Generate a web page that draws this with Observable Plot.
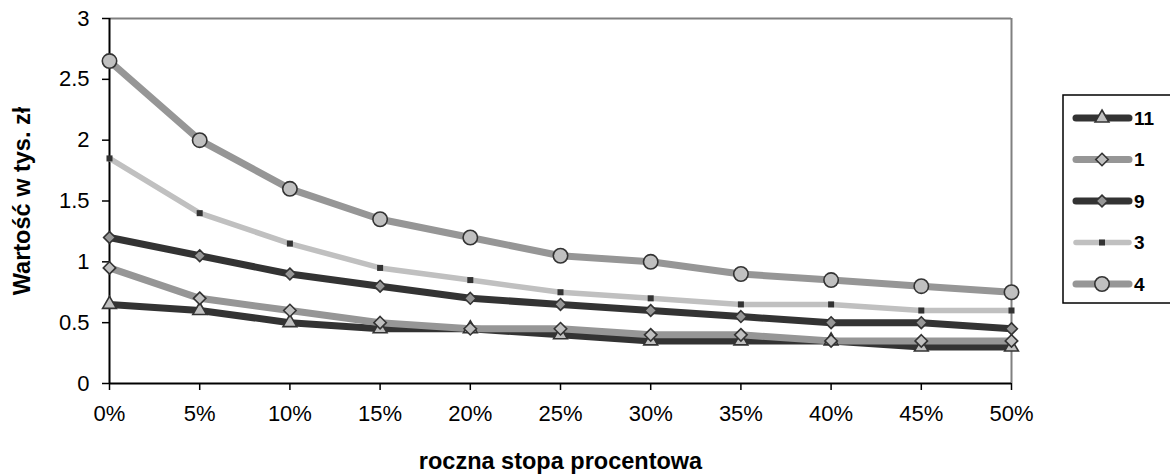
<!DOCTYPE html>
<html>
<head>
<meta charset="utf-8">
<script src="https://cdn.jsdelivr.net/npm/d3@7"></script>
<script src="https://cdn.jsdelivr.net/npm/@observablehq/plot@0.6"></script>
<style>
  html, body { margin: 0; padding: 0; background: #fff; }
  #chart { position: relative; width: 1170px; height: 476px; font-family: "Liberation Sans", Arial, sans-serif; }
  #legend { position: absolute; left: 0; top: 0; pointer-events: none; }
</style>
</head>
<body>
<div id="chart"></div>
<script>
// Annual interest rate (%) on the x axis
const rates = [0, 5, 10, 15, 20, 25, 30, 35, 40, 45, 50];
// Value in thousands of zł for each series
const s11 = [0.65, 0.6, 0.5, 0.45, 0.45, 0.4, 0.35, 0.35, 0.35, 0.3, 0.3];
const s1  = [0.95, 0.7, 0.6, 0.5, 0.45, 0.45, 0.4, 0.4, 0.35, 0.35, 0.35];
const s9  = [1.2, 1.05, 0.9, 0.8, 0.7, 0.65, 0.6, 0.55, 0.5, 0.5, 0.45];
const s3  = [1.85, 1.4, 1.15, 0.95, 0.85, 0.75, 0.7, 0.65, 0.65, 0.6, 0.6];
const s4  = [2.65, 2.0, 1.6, 1.35, 1.2, 1.05, 1.0, 0.9, 0.85, 0.8, 0.75];
const seriesNames = ["11", "1", "9", "3", "4"];
const seriesValues = [s11, s1, s9, s3, s4];
const yTicks = [0, 0.5, 1, 1.5, 2, 2.5, 3];
const xTitle = "roczna stopa procentowa";
const yTitle = "Wartość w tys. zł";

// Line and marker styling per series
const styles = {
  "11": {line: "#333333", width: 7, symbol: "triangle2", r: 6.6, fill: "#c0c0c0", mstroke: "#333333"},
  "1":  {line: "#969696", width: 7, symbol: "diamond2", r: 5.6, fill: "#c0c0c0", mstroke: "#333333"},
  "9":  {line: "#333333", width: 7, symbol: "diamond2", r: 5.3, fill: "#969696", mstroke: "#333333"},
  "3":  {line: "#c0c0c0", width: 5.5, symbol: "square", r: 3.4, fill: "#333333", mstroke: "none"},
  "4":  {line: "#969696", width: 7, symbol: "circle", r: 7.2, fill: "#c0c0c0", mstroke: "#333333"}
};

const rows = seriesNames.map((name, i) =>
  rates.map((rate, j) => ({series: name, rate, value: seriesValues[i][j]}))
);

const lineMarks = rows.map((data, i) => {
  const st = styles[seriesNames[i]];
  return Plot.line(data, {x: "rate", y: "value", stroke: st.line, strokeWidth: st.width,
    strokeLinejoin: "round", strokeLinecap: "butt"});
});
const dotMarks = rows.map((data, i) => {
  const st = styles[seriesNames[i]];
  return Plot.dot(data, {x: "rate", y: "value", symbol: () => st.symbol, r: st.r,
    fill: st.fill, stroke: st.mstroke, strokeWidth: 1.6});
});

const W = 1170, H = 476;
const plot = Plot.plot({
  width: W,
  height: H,
  marginLeft: 109,
  marginRight: 159,
  marginTop: 18,
  marginBottom: 93,
  style: {fontFamily: "'Liberation Sans', Arial, sans-serif", fontSize: "22px", color: "#000", background: "#fff"},
  symbol: {type: "identity"},
  x: {domain: [0, 50]},
  y: {domain: [0, 3]},
  marks: [
    // plot area frame: grey top and right edges
    Plot.ruleY([3], {stroke: "#808080", strokeWidth: 2}),
    Plot.ruleX([50], {stroke: "#808080", strokeWidth: 2}),
    Plot.axisX({ticks: rates, tickFormat: d => d + "%", tickSize: 7, tickPadding: 15,
      label: null, stroke: "#000", strokeWidth: 1.5}),
    Plot.axisY({ticks: yTicks, tickFormat: d => String(d), tickSize: 7, tickPadding: 13,
      label: null, stroke: "#000", strokeWidth: 1.5}),
    Plot.ruleX([0], {stroke: "#000", strokeWidth: 2}),
    Plot.ruleY([0], {stroke: "#000", strokeWidth: 2}),
    ...lineMarks,
    ...dotMarks,
    Plot.text([xTitle], {frameAnchor: "bottom", text: d => d, dy: 78, textAnchor: "middle",
      lineAnchor: "middle", fontWeight: "bold", fontSize: 23.5}),
    Plot.text([yTitle], {frameAnchor: "left", text: d => d, dx: -87, rotate: -90, textAnchor: "middle",
      lineAnchor: "middle", fontWeight: "bold", fontSize: 23.5})
  ]
});

const chart = document.getElementById("chart");
chart.appendChild(plot);

// Legend box on the right
const legend = d3.select(chart).append("svg")
  .attr("id", "legend")
  .attr("width", W)
  .attr("height", H);

legend.append("rect")
  .attr("x", 1063).attr("y", 95)
  .attr("width", 130).attr("height", 208)
  .attr("fill", "#fff").attr("stroke", "#000").attr("stroke-width", 1.5);

const symbolTypes = {triangle2: d3.symbolTriangle2, diamond2: d3.symbolDiamond2, square: d3.symbolSquare, circle: d3.symbolCircle};

seriesNames.forEach((name, i) => {
  const st = styles[name];
  const cy = 118 + i * 41.5;
  const g = legend.append("g");
  g.append("line")
    .attr("x1", 1076).attr("x2", 1129).attr("y1", cy).attr("y2", cy)
    .attr("stroke", st.line).attr("stroke-width", st.width)
    .attr("stroke-linecap", "round");
  g.append("path")
    .attr("transform", `translate(1102,${cy})`)
    .attr("d", d3.symbol(symbolTypes[st.symbol], Math.PI * st.r * st.r)())
    .attr("fill", st.fill)
    .attr("stroke", st.mstroke)
    .attr("stroke-width", 1.6);
  g.append("text")
    .attr("x", 1134).attr("y", cy)
    .attr("dy", "0.36em")
    .attr("font-family", "'Liberation Sans', Arial, sans-serif")
    .attr("font-size", 19)
    .attr("font-weight", "bold")
    .text(name);
});
</script>
</body>
</html>
